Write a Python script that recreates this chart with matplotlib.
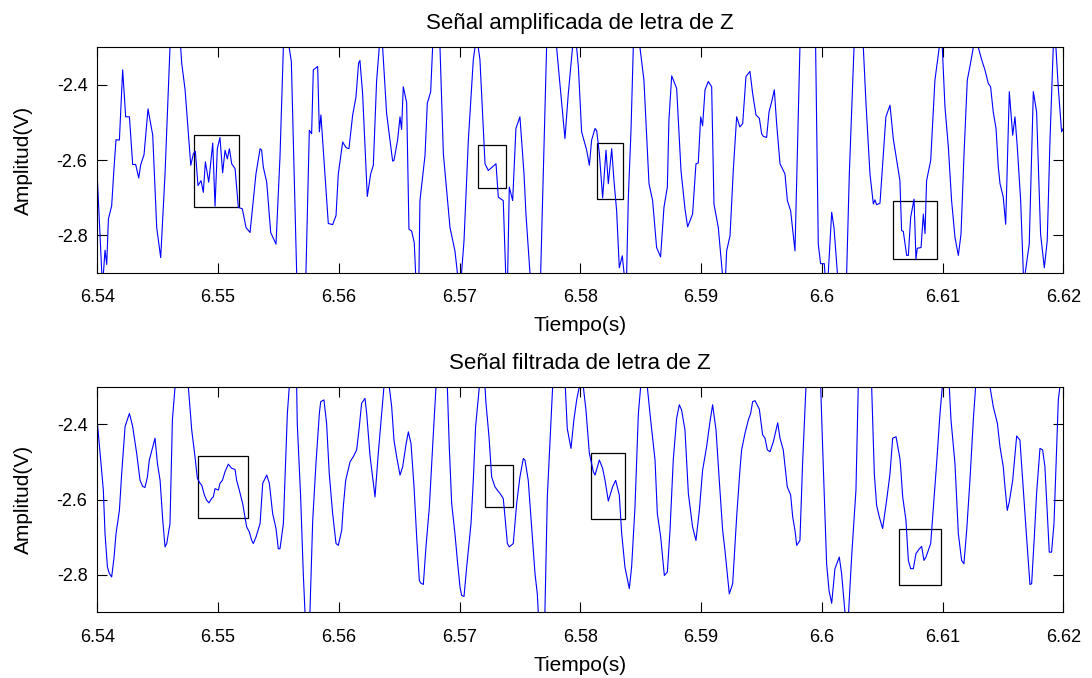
import matplotlib

matplotlib.use("Agg")
import matplotlib.pyplot as plt
from matplotlib.patches import Rectangle

plt.rcParams["font.family"] = ["Liberation Sans", "DejaVu Sans"]

# ---- amplified signal (top panel): time (s), amplitude (V) ----
top_time = [
    6.5399, 6.5400, 6.5404, 6.5405, 6.54064, 6.54078, 6.54092, 6.54119, 6.54139, 6.54155,
    6.54183, 6.54210, 6.54235, 6.54266, 6.54293, 6.54318, 6.54343, 6.54360, 6.54387, 6.54420,
    6.54459, 6.54492, 6.54525, 6.54561, 6.54602, 6.54650, 6.54699, 6.54727, 6.54754, 6.54774,
    6.54796, 6.54812, 6.54834, 6.54859, 6.54878, 6.54895, 6.54923, 6.54956, 6.54975, 6.54994,
    6.55016, 6.55038, 6.55058, 6.55077, 6.55094, 6.55113, 6.55141, 6.55168, 6.55201, 6.55232,
    6.55265, 6.55314, 6.55348, 6.55361, 6.55375, 6.55403, 6.55436, 6.55480, 6.55513, 6.55541,
    6.55563, 6.55589, 6.55607, 6.55651, 6.55690, 6.55728, 6.55756, 6.55775, 6.55789, 6.55825,
    6.55839, 6.55852, 6.55872, 6.55913, 6.55949, 6.55977, 6.55996, 6.56032, 6.56060, 6.56084,
    6.56115, 6.56142, 6.56164, 6.56175, 6.56197, 6.56236, 6.56264, 6.56286, 6.56313, 6.56335,
    6.56349, 6.56363, 6.56396, 6.56446, 6.56457, 6.56487, 6.56507, 6.56520, 6.56534, 6.56562,
    6.56581, 6.56603, 6.56625, 6.56636, 6.56650, 6.56664, 6.56672, 6.56714, 6.56733, 6.56761,
    6.56777, 6.56808, 6.56838, 6.56866, 6.56921, 6.56962, 6.56982, 6.56998, 6.57017, 6.57037,
    6.57073, 6.57114, 6.57128, 6.57142, 6.57155, 6.57169, 6.57211, 6.57238, 6.57302, 6.57321,
    6.57362, 6.57382, 6.57396, 6.57412, 6.57440, 6.57467, 6.57500, 6.57534, 6.57550, 6.57583,
    6.57627, 6.57672, 6.57721, 6.57763, 6.57804, 6.57818, 6.57873, 6.57901, 6.57936, 6.57955,
    6.57984, 6.58011, 6.58053, 6.58075, 6.58094, 6.58122, 6.58136, 6.58158, 6.58185, 6.58213,
    6.58232, 6.58260, 6.58279, 6.58301, 6.58323, 6.58348, 6.58362, 6.58370, 6.58384, 6.58398,
    6.58420, 6.58439, 6.58467, 6.58494, 6.58527, 6.58569, 6.58599, 6.58632, 6.58665, 6.58693,
    6.58721, 6.58734, 6.58757, 6.58798, 6.58834, 6.58867, 6.58889, 6.58930, 6.58958, 6.58977,
    6.58997, 6.59013, 6.59033, 6.59060, 6.59088, 6.59107, 6.59143, 6.59176, 6.59190, 6.59204,
    6.59212, 6.59240, 6.59267, 6.59295, 6.59322, 6.59345, 6.59372, 6.59405, 6.59427, 6.59455,
    6.59483, 6.59502, 6.59516, 6.59543, 6.59563, 6.59585, 6.59607, 6.59626, 6.59654, 6.59695,
    6.59715, 6.59742, 6.59778, 6.59819, 6.59883, 6.59949, 6.59971, 6.59990, 6.60021, 6.60026,
    6.60040, 6.60054, 6.60082, 6.60101, 6.60129, 6.60167, 6.60206, 6.60228, 6.60267, 6.60306,
    6.60344, 6.60366, 6.60399, 6.60427, 6.60440, 6.60454, 6.60482, 6.60504, 6.60531, 6.60565,
    6.60592, 6.60620, 6.60647, 6.60661, 6.60675, 6.60703, 6.60717, 6.60736, 6.60764, 6.60780,
    6.60791, 6.60822, 6.60841, 6.60855, 6.60868, 6.60902, 6.60937, 6.60973, 6.60984, 6.60998,
    6.61020, 6.61048, 6.61075, 6.61103, 6.61131, 6.61153, 6.61177, 6.61205, 6.61227, 6.61255,
    6.61274, 6.61296, 6.61324, 6.61351, 6.61379, 6.61398, 6.61420, 6.61443, 6.61462, 6.61476,
    6.61503, 6.61523, 6.61553, 6.61581, 6.61600, 6.61619, 6.61647, 6.61669, 6.61677, 6.61685,
    6.61718, 6.61752, 6.61779, 6.61812, 6.61843, 6.61867, 6.61890, 6.61917, 6.61928, 6.61939,
    6.61958, 6.61986, 6.62005, 6.6202,
]
top_amp = [
    -2.600, -2.646, -2.920, -2.905, -2.840, -2.878, -2.757, -2.722, -2.619, -2.546,
    -2.547, -2.360, -2.485, -2.485, -2.612, -2.612, -2.648, -2.612, -2.586, -2.464,
    -2.534, -2.780, -2.860, -2.637, -2.300, -2.100, -2.342, -2.413, -2.530, -2.614,
    -2.583, -2.577, -2.668, -2.655, -2.686, -2.605, -2.659, -2.555, -2.723, -2.570,
    -2.540, -2.634, -2.574, -2.597, -2.570, -2.610, -2.623, -2.726, -2.730, -2.780,
    -2.793, -2.637, -2.570, -2.574, -2.619, -2.659, -2.793, -2.824, -2.592, -2.300,
    -2.200, -2.300, -2.338, -2.900, -3.050, -2.900, -2.521, -2.530, -2.360, -2.351,
    -2.525, -2.480, -2.574, -2.769, -2.772, -2.748, -2.637, -2.552, -2.567, -2.570,
    -2.480, -2.433, -2.342, -2.335, -2.422, -2.697, -2.637, -2.614, -2.391, -2.300,
    -2.260, -2.300, -2.476, -2.603, -2.601, -2.547, -2.485, -2.519, -2.405, -2.447,
    -2.784, -2.789, -2.820, -2.900, -2.960, -2.900, -2.708, -2.588, -2.449, -2.418,
    -2.300, -2.150, -2.300, -2.583, -2.780, -2.842, -2.900, -2.930, -2.900, -2.815,
    -2.547, -2.333, -2.300, -2.280, -2.300, -2.333, -2.610, -2.628, -2.610, -2.699,
    -2.708, -2.900, -2.950, -2.672, -2.708, -2.516, -2.485, -2.637, -2.744, -2.900,
    -3.100, -2.900, -2.300, -2.100, -2.300, -2.351, -2.543, -2.422, -2.300, -2.250,
    -2.351, -2.525, -2.574, -2.614, -2.547, -2.516, -2.522, -2.583, -2.701, -2.574,
    -2.663, -2.570, -2.655, -2.735, -2.887, -2.855, -2.900, -2.930, -2.900, -2.699,
    -2.521, -2.300, -2.200, -2.300, -2.387, -2.663, -2.708, -2.833, -2.858, -2.726,
    -2.672, -2.494, -2.376, -2.409, -2.628, -2.730, -2.778, -2.744, -2.610, -2.608,
    -2.485, -2.509, -2.413, -2.391, -2.405, -2.717, -2.780, -2.900, -2.950, -2.900,
    -2.842, -2.802, -2.628, -2.485, -2.512, -2.503, -2.378, -2.364, -2.422, -2.480,
    -2.489, -2.530, -2.537, -2.540, -2.472, -2.445, -2.413, -2.503, -2.610, -2.637,
    -2.708, -2.735, -2.842, -2.300, -2.000, -2.300, -2.824, -2.876, -2.876, -2.900,
    -2.950, -2.900, -2.739, -2.780, -2.900, -3.050, -2.900, -2.637, -2.300, -2.000,
    -2.300, -2.449, -2.637, -2.717, -2.706, -2.719, -2.715, -2.610, -2.485, -2.454,
    -2.543, -2.601, -2.655, -2.788, -2.790, -2.854, -2.854, -2.753, -2.704, -2.864,
    -2.835, -2.833, -2.744, -2.796, -2.655, -2.601, -2.387, -2.300, -2.280, -2.300,
    -2.458, -2.565, -2.708, -2.806, -2.854, -2.797, -2.592, -2.387, -2.351, -2.300,
    -2.285, -2.300, -2.333, -2.360, -2.396, -2.405, -2.472, -2.516, -2.619, -2.663,
    -2.699, -2.771, -2.418, -2.534, -2.485, -2.565, -2.708, -2.900, -2.930, -2.900,
    -2.824, -2.418, -2.472, -2.797, -2.887, -2.815, -2.547, -2.300, -2.270, -2.300,
    -2.405, -2.525, -2.512, -2.500,
]

# ---- filtered signal (bottom panel) ----
bottom_time = [
    6.5399, 6.54001, 6.54023, 6.54050, 6.54064, 6.54084, 6.54100, 6.54119, 6.54139, 6.54155,
    6.54183, 6.54202, 6.54230, 6.54266, 6.54293, 6.54326, 6.54354, 6.54376, 6.54395, 6.54415,
    6.54431, 6.54459, 6.54478, 6.54498, 6.54520, 6.54542, 6.54561, 6.54575, 6.54602, 6.54622,
    6.54644, 6.54699, 6.54754, 6.54782, 6.54809, 6.54829, 6.54851, 6.54865, 6.54887, 6.54906,
    6.54925, 6.54947, 6.54961, 6.54975, 6.55003, 6.55016, 6.55036, 6.55058, 6.55085, 6.55113,
    6.55141, 6.55154, 6.55176, 6.55204, 6.55223, 6.55237, 6.55259, 6.55279, 6.55292, 6.55314,
    6.55348, 6.55370, 6.55403, 6.55425, 6.55452, 6.55480, 6.55499, 6.55513, 6.55541, 6.55563,
    6.55574, 6.55590, 6.55621, 6.55651, 6.55656, 6.55684, 6.55706, 6.55720, 6.55739, 6.55761,
    6.55784, 6.55811, 6.55839, 6.55850, 6.55877, 6.55899, 6.55921, 6.55949, 6.55977, 6.55996,
    6.56024, 6.56037, 6.56057, 6.56093, 6.56120, 6.56148, 6.56170, 6.56189, 6.56217, 6.56231,
    6.56258, 6.56300, 6.56327, 6.56355, 6.56374, 6.56396, 6.56418, 6.56438, 6.56457, 6.56479,
    6.56507, 6.56529, 6.56556, 6.56576, 6.56598, 6.56623, 6.56645, 6.56667, 6.56678, 6.56700,
    6.56722, 6.56750, 6.56777, 6.56805, 6.56852, 6.56899, 6.56915, 6.56935, 6.56962, 6.56982,
    6.57004, 6.57017, 6.57037, 6.57059, 6.57095, 6.57114, 6.57133, 6.57164, 6.57186, 6.57211,
    6.57219, 6.57244, 6.57266, 6.57293, 6.57313, 6.57335, 6.57362, 6.57379, 6.57396, 6.57412,
    6.57445, 6.57473, 6.57500, 6.57528, 6.57542, 6.57569, 6.57597, 6.57625, 6.57644, 6.57652,
    6.57680, 6.57707, 6.57727, 6.57771, 6.57823, 6.57876, 6.57892, 6.57923, 6.57947, 6.57970,
    6.57992, 6.58000, 6.58025, 6.58047, 6.58075, 6.58108, 6.58122, 6.58158, 6.58185, 6.58205,
    6.58232, 6.58268, 6.58293, 6.58323, 6.58343, 6.58370, 6.58406, 6.58425, 6.58453, 6.58481,
    6.58500, 6.58528, 6.58555, 6.58577, 6.58619, 6.58638, 6.58666, 6.58696, 6.58721, 6.58743,
    6.58770, 6.58798, 6.58820, 6.58839, 6.58867, 6.58895, 6.58930, 6.58958, 6.58986, 6.59013,
    6.59046, 6.59074, 6.59096, 6.59124, 6.59151, 6.59179, 6.59198, 6.59234, 6.59262, 6.59295,
    6.59322, 6.59336, 6.59364, 6.59392, 6.59411, 6.59427, 6.59447, 6.59483, 6.59510, 6.59530,
    6.59549, 6.59571, 6.59599, 6.59635, 6.59654, 6.59681, 6.59714, 6.59742, 6.59759, 6.59778,
    6.59792, 6.59819, 6.59841, 6.59869, 6.59930, 6.59991, 6.60007, 6.60040, 6.60060, 6.60082,
    6.60109, 6.60145, 6.60164, 6.60192, 6.60206, 6.60222, 6.60247, 6.60283, 6.60302, 6.60358,
    6.60413, 6.60435, 6.60454, 6.60476, 6.60504, 6.60537, 6.60565, 6.60587, 6.60615, 6.60647,
    6.60653, 6.60670, 6.60697, 6.60717, 6.60736, 6.60758, 6.60780, 6.60808, 6.60827, 6.60846,
    6.60863, 6.60902, 6.60924, 6.60951, 6.60979, 6.60998, 6.61026, 6.61056, 6.61070, 6.61103,
    6.61131, 6.61158, 6.61177, 6.61200, 6.61227, 6.61255, 6.61274, 6.61332, 6.61393, 6.61420,
    6.61454, 6.61476, 6.61503, 6.61517, 6.61536, 6.61553, 6.61581, 6.61614, 6.61641, 6.61669,
    6.61696, 6.61724, 6.61738, 6.61760, 6.61779, 6.61807, 6.61829, 6.61848, 6.61868, 6.61884,
    6.61903, 6.61923, 6.61945, 6.61959, 6.61972, 6.62000, 6.62014,
]
bottom_amp = [
    -2.360, -2.397, -2.477, -2.575, -2.691, -2.780, -2.797, -2.806, -2.753, -2.691,
    -2.629, -2.531, -2.406, -2.371, -2.406, -2.477, -2.549, -2.565, -2.568, -2.540,
    -2.495, -2.460, -2.437, -2.504, -2.549, -2.655, -2.726, -2.717, -2.664, -2.388,
    -2.300, -2.100, -2.300, -2.415, -2.486, -2.544, -2.557, -2.562, -2.588, -2.602,
    -2.609, -2.597, -2.593, -2.571, -2.575, -2.557, -2.549, -2.526, -2.506, -2.517,
    -2.520, -2.549, -2.575, -2.611, -2.646, -2.673, -2.686, -2.709, -2.717, -2.700,
    -2.664, -2.557, -2.535, -2.557, -2.637, -2.677, -2.731, -2.731, -2.664, -2.468,
    -2.371, -2.300, -2.200, -2.300, -2.397, -2.593, -2.797, -2.900, -2.950, -2.900,
    -2.655, -2.504, -2.371, -2.340, -2.335, -2.397, -2.531, -2.637, -2.717, -2.722,
    -2.682, -2.620, -2.549, -2.500, -2.486, -2.468, -2.406, -2.344, -2.331, -2.371,
    -2.482, -2.593, -2.477, -2.371, -2.300, -2.250, -2.300, -2.353, -2.442, -2.486,
    -2.535, -2.513, -2.455, -2.420, -2.451, -2.566, -2.700, -2.815, -2.822, -2.826,
    -2.726, -2.620, -2.460, -2.300, -2.100, -2.300, -2.460, -2.611, -2.691, -2.762,
    -2.833, -2.855, -2.858, -2.780, -2.664, -2.549, -2.406, -2.300, -2.250, -2.300,
    -2.344, -2.433, -2.540, -2.566, -2.575, -2.584, -2.597, -2.655, -2.717, -2.726,
    -2.717, -2.611, -2.540, -2.491, -2.495, -2.549, -2.673, -2.797, -2.851, -2.900,
    -3.000, -2.900, -2.593, -2.300, -2.100, -2.300, -2.411, -2.464, -2.388, -2.335,
    -2.300, -2.280, -2.300, -2.362, -2.477, -2.526, -2.535, -2.495, -2.517, -2.549,
    -2.604, -2.566, -2.549, -2.588, -2.691, -2.780, -2.837, -2.780, -2.620, -2.371,
    -2.300, -2.200, -2.300, -2.371, -2.495, -2.637, -2.700, -2.802, -2.793, -2.682,
    -2.495, -2.384, -2.348, -2.362, -2.415, -2.584, -2.673, -2.709, -2.629, -2.522,
    -2.460, -2.393, -2.348, -2.415, -2.549, -2.682, -2.735, -2.851, -2.824, -2.646,
    -2.522, -2.468, -2.424, -2.388, -2.371, -2.340, -2.337, -2.360, -2.428, -2.437,
    -2.468, -2.473, -2.446, -2.396, -2.437, -2.468, -2.566, -2.588, -2.646, -2.682,
    -2.722, -2.709, -2.504, -2.300, -2.000, -2.300, -2.460, -2.771, -2.842, -2.876,
    -2.784, -2.753, -2.797, -2.900, -2.930, -2.900, -2.753, -2.575, -2.300, -2.000,
    -2.300, -2.531, -2.615, -2.646, -2.677, -2.602, -2.531, -2.437, -2.433, -2.491,
    -2.513, -2.593, -2.655, -2.762, -2.784, -2.784, -2.744, -2.731, -2.725, -2.762,
    -2.753, -2.717, -2.620, -2.504, -2.371, -2.300, -2.200, -2.300, -2.388, -2.504,
    -2.691, -2.762, -2.771, -2.682, -2.549, -2.388, -2.300, -2.100, -2.300, -2.353,
    -2.397, -2.460, -2.513, -2.566, -2.629, -2.606, -2.549, -2.431, -2.442, -2.575,
    -2.700, -2.826, -2.824, -2.700, -2.584, -2.464, -2.468, -2.513, -2.637, -2.740,
    -2.740, -2.664, -2.460, -2.335, -2.300, -2.250, -2.200,
]

# highlighted regions: (t_start, t_end) and (v_low, v_high)
top_box_t = [(6.54801, 6.55174), (6.57150, 6.57382), (6.58141, 6.58356), (6.60592, 6.60951)]
top_box_v = [(-2.724, -2.534), (-2.674, -2.559), (-2.704, -2.555), (-2.864, -2.708)]
bottom_box_t = [(6.54831, 6.55251), (6.57213, 6.57442), (6.58089, 6.58370), (6.60639, 6.60984)]
bottom_box_v = [(-2.648, -2.485), (-2.620, -2.509), (-2.653, -2.475), (-2.827, -2.679)]

x_ticks = [6.54, 6.55, 6.56, 6.57, 6.58, 6.59, 6.60, 6.61, 6.62]
x_labels = ["6.54", "6.55", "6.56", "6.57", "6.58", "6.59", "6.6", "6.61", "6.62"]
y_ticks = [-2.8, -2.6, -2.4]
y_labels = ["-2.8", "-2.6", "-2.4"]

assert len(top_time) == len(top_amp)
assert len(bottom_time) == len(bottom_amp)


def draw_panel(ax, t, v, box_t, box_v, title):
    ax.plot(t, v, color="#0000ff", lw=0.8)
    for (t0, t1), (v0, v1) in zip(box_t, box_v):
        ax.add_patch(Rectangle((t0, v0), t1 - t0, v1 - v0, fill=False, ec="black", lw=0.9))
    ax.set_xlim(6.54, 6.62)
    ax.set_ylim(-2.9, -2.3)
    ax.set_xticks(x_ticks)
    ax.set_xticklabels(x_labels)
    ax.set_yticks(y_ticks)
    ax.set_yticklabels(y_labels)
    ax.tick_params(direction="in", top=True, right=True, length=7, width=0.8,
                   labelsize=13)
    ax.tick_params(axis="x", pad=12)
    ax.tick_params(axis="y", pad=7)
    for s in ax.spines.values():
        s.set_linewidth(0.8)
    ax.set_title(title, fontsize=16, pad=13)
    ax.set_xlabel("Tiempo(s)", fontsize=15, labelpad=7)
    ax.set_ylabel("Amplitud(V)", fontsize=15, labelpad=17)


fig = plt.figure(figsize=(10.92, 6.78), dpi=100)
ax_top = fig.add_axes([0.0891, 0.5978, 0.8846, 0.3324])
ax_bot = fig.add_axes([0.0891, 0.0969, 0.8846, 0.3327])

draw_panel(ax_top, top_time, top_amp, top_box_t, top_box_v, "Señal amplificada de letra de Z")
draw_panel(ax_bot, bottom_time, bottom_amp, bottom_box_t, bottom_box_v, "Señal filtrada de letra de Z")

fig.savefig("out.png", dpi=100)
